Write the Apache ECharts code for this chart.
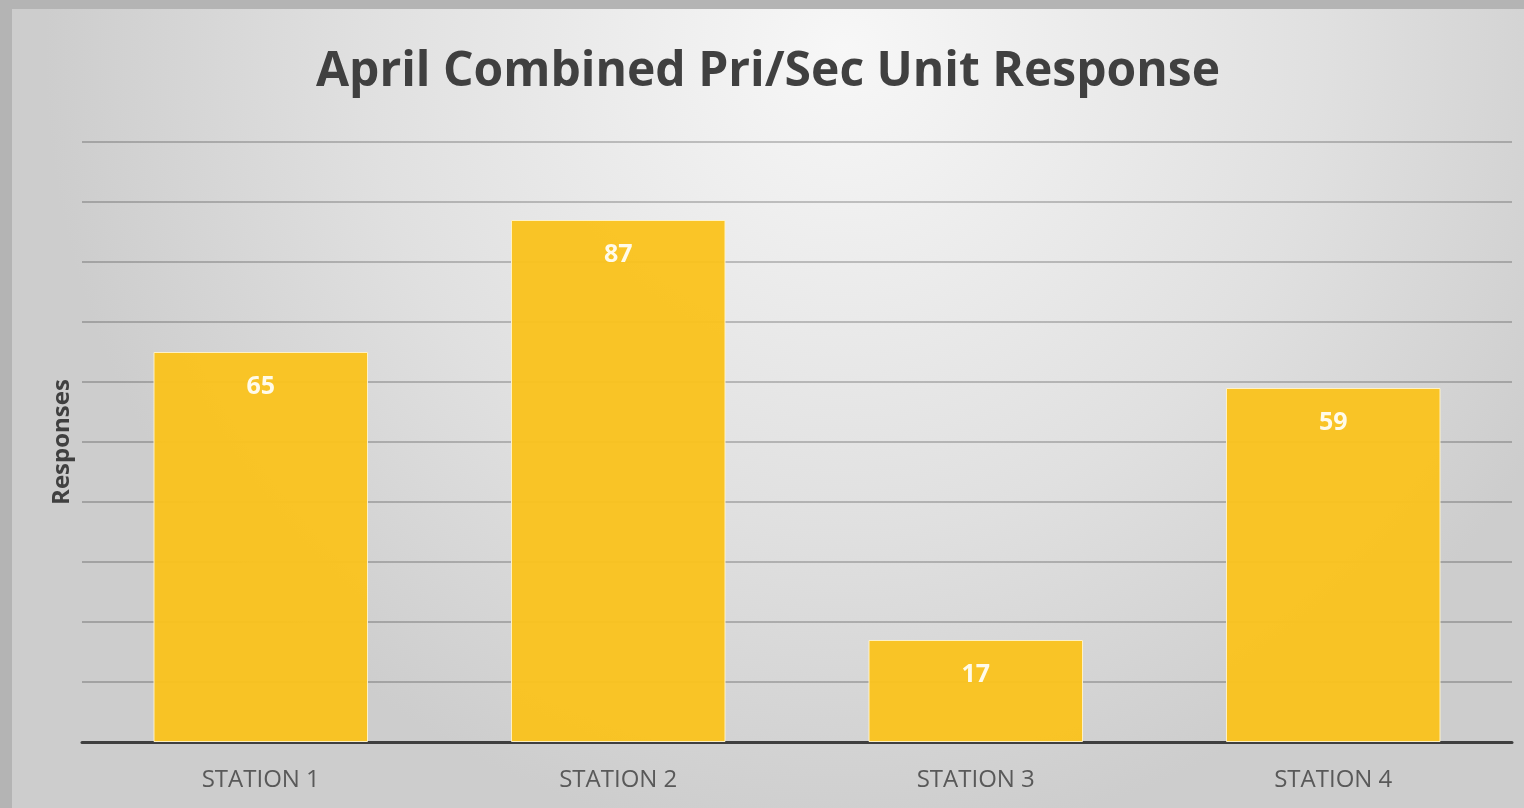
<!DOCTYPE html>
<html>
<head>
<meta charset="utf-8">
<script src="https://cdn.jsdelivr.net/npm/echarts@6/dist/echarts.min.js"></script>
<style>
  html, body { margin: 0; padding: 0; }
  body {
    width: 1524px;
    height: 808px;
    overflow: hidden;
    background: #b4b4b4;
    position: relative;
  }
  #chart {
    position: absolute;
    left: 12px;
    top: 9px;
    width: 1512px;
    height: 799px;
  }
</style>
</head>
<body>
<div id="chart"></div>
<script>
// data
const stations = ['STATION 1', 'STATION 2', 'STATION 3', 'STATION 4']
const responses = [65, 87, 17, 59]

const chart = echarts.init(document.getElementById('chart'))

const option = {
  backgroundColor: {
    type: 'radial',
    x: 0.55,
    y: 0.05,
    r: 1.0,
    colorStops: [
      { offset: 0, color: '#f7f7f7' },
      { offset: 0.6, color: '#e0e0e0' },
      { offset: 1, color: '#cdcdcd' },
    ],
  },
  title: {
    text: 'April Combined Pri/Sec Unit Response',
    left: 'center',
    top: 34,
    textStyle: {
      fontFamily: 'Open Sans',
      fontSize: 48,
      fontWeight: 'bold',
      color: '#404040',
    },
  },
  grid: {
    left: 70,
    right: 12,
    top: 133,
    bottom: 66,
  },
  xAxis: {
    type: 'category',
    data: stations,
    axisLine: {
      lineStyle: { color: '#3f3f3f', width: 3 },
    },
    axisTick: { show: false },
    axisLabel: {
      fontFamily: 'Open Sans',
      fontSize: 24,
      color: '#595959',
      margin: 26,
    },
  },
  yAxis: {
    type: 'value',
    min: 0,
    max: 100,
    interval: 10,
    name: 'Responses',
    nameLocation: 'middle',
    nameGap: 8,
    nameTextStyle: {
      fontFamily: 'Open Sans',
      fontSize: 24,
      fontWeight: 'bold',
      color: '#404040',
    },
    axisLabel: { show: false },
    axisLine: { show: false },
    axisTick: { show: false },
    splitLine: {
      lineStyle: { color: 'rgba(0, 0, 0, 0.28)', width: 1.5 },
    },
  },
  series: [
    {
      type: 'bar',
      data: responses,
      barWidth: '60%',
      itemStyle: {
        color: '#fac31e',
        borderColor: '#fff3c8',
        borderWidth: 1,
        opacity: 0.96,
      },
      label: {
        show: true,
        position: 'insideTop',
        distance: 22,
        fontFamily: 'Open Sans',
        fontSize: 25,
        fontWeight: 'bold',
        color: '#fffdf2',
      },
    },
  ],
}

chart.setOption(option)
</script>
</body>
</html>
